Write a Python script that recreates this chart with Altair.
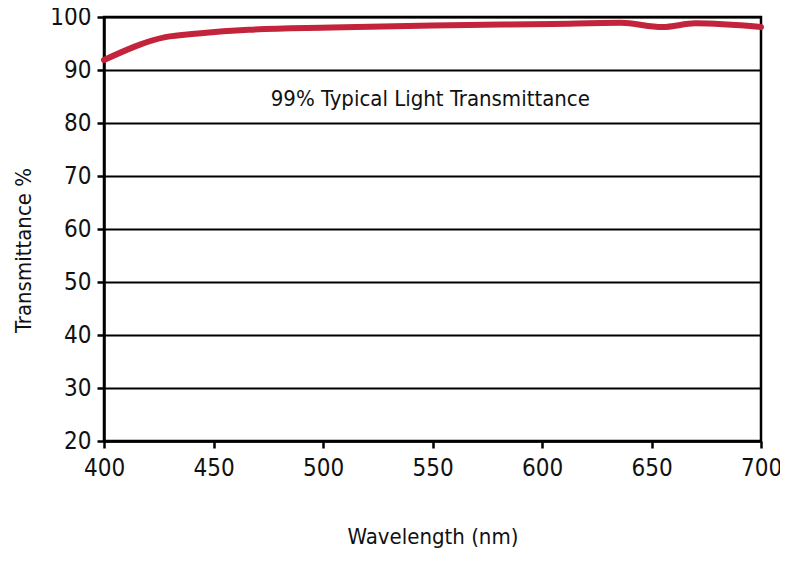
import altair as alt
import pandas as pd

wavelength = [400, 428, 443, 466, 504, 550, 605, 636, 655, 670, 700]
transmittance = [91.9, 96.2, 96.9, 97.6, 98.0, 98.4, 98.7, 98.9, 98.1, 98.8, 98.1]

note_text = ["99% Typical Light Transmittance"]
note_x = [549]
note_y = [84.6]

FONT = "DejaVu Sans Condensed"

df = pd.DataFrame({"wl": wavelength, "t": transmittance})
notes = pd.DataFrame({"label": note_text, "x": note_x, "y": note_y})

xscale = alt.Scale(domain=[400, 700], nice=False, zero=False)
yscale = alt.Scale(domain=[20, 100], nice=False, zero=False)

line = alt.Chart(df).mark_line(color="#c4233c", strokeWidth=6, strokeCap="round",
                               strokeJoin="round", interpolate="monotone").encode(
    x=alt.X("wl:Q", scale=xscale, title="Wavelength (nm)",
            axis=alt.Axis(values=[400, 450, 500, 550, 600, 650, 700], grid=False,
                          labelPadding=8, titlePadding=46, tickSize=7,
                          labelFlush=False)),
    y=alt.Y("t:Q", scale=yscale, title="Transmittance %",
            axis=alt.Axis(values=[20, 30, 40, 50, 60, 70, 80, 90, 100], grid=True,
                          labelPadding=6, titlePadding=14, tickSize=7,
                          labelFlush=False, titleY=233)),
)

text = alt.Chart(notes).mark_text(font=FONT, fontSize=22, color="#111111").encode(
    x=alt.X("x:Q", scale=xscale),
    y=alt.Y("y:Q", scale=yscale),
    text="label:N",
)

chart = alt.layer(line, text).properties(
    width=657, height=424,
    autosize=alt.AutoSizeParams(type="none"),
    padding={"left": 96, "top": 9, "right": 19, "bottom": 114},
).configure_view(
    stroke="black", strokeWidth=2.5
).configure_axis(
    domainColor="black", domainWidth=2.5,
    tickColor="black", tickWidth=2.5,
    gridColor="black", gridWidth=2, gridOpacity=1,
    labelFont=FONT, labelFontSize=24, labelColor="#111111",
    titleFont=FONT, titleFontSize=22, titleColor="#111111", titleFontWeight="normal",
    labelOverlap=False,
).configure_axisY(
    labelBaseline="middle"
)

chart.save("out.html", embed_options={"renderer": "svg", "actions": False})
